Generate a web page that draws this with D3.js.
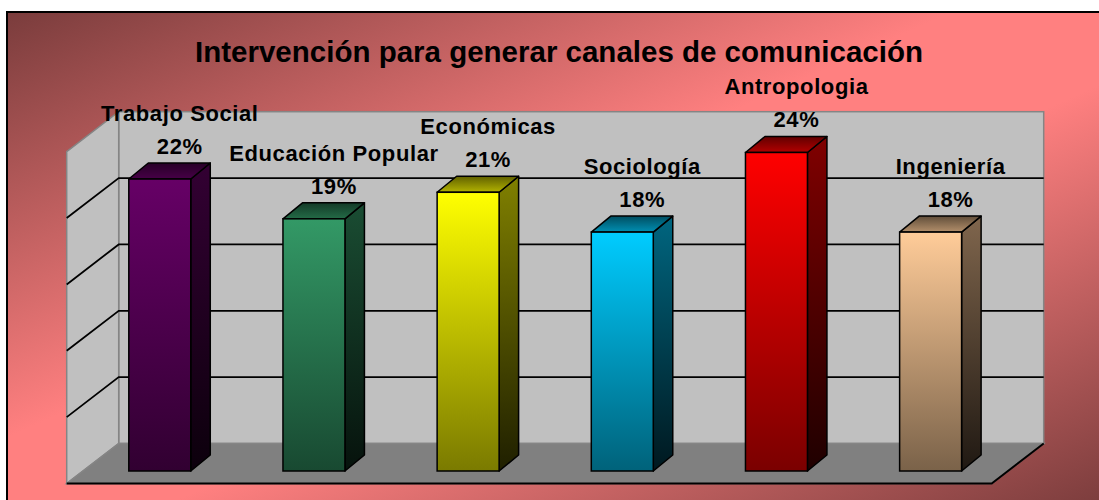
<!DOCTYPE html>
<html>
<head>
<meta charset="utf-8">
<script src="https://cdn.jsdelivr.net/npm/d3@7"></script>
<style>
  body { margin: 0; background: #fff; }
  text { font-family: "Liberation Sans", Arial, sans-serif; font-weight: bold; fill: #000; }
</style>
</head>
<body>
<div id="chart"></div>
<script>
var title = "Intervención para generar canales de comunicación";
var categories = ["Trabajo Social", "Educación Popular", "Económicas", "Sociología", "Antropologia", "Ingeniería"];
var values = [22, 19, 21, 18, 24, 18];
var yTicks = [0, 5, 10, 15, 20, 25];
var barColors = ["#660066", "#339966", "#ffff00", "#00ccff", "#ff0000", "#ffcc99"];

var width = 1099, height = 500;

// 3d layout of the plot (floor front edge + depth offsets)
var floorL = 66.7, floorR = 991.7, floorY = 483.5,
    depthX = 52, depthY = 40,
    planeX = 16, planeY = 12.5,   // bars sit this far back on the floor
    barDX = 19.5, barDY = 16;     // depth of each bar

var svg = d3.select("#chart").append("svg")
    .attr("width", width)
    .attr("height", height);

var defs = svg.append("defs");

var bg = defs.append("linearGradient")
    .attr("id", "bg")
    .attr("x1", 0).attr("y1", 0).attr("x2", 1).attr("y2", 1);
bg.append("stop").attr("offset", 0).attr("stop-color", "#7a3c3c");
bg.append("stop").attr("offset", 0.43).attr("stop-color", "#ff8080");
bg.append("stop").attr("offset", 0.57).attr("stop-color", "#ff8080");
bg.append("stop").attr("offset", 1).attr("stop-color", "#7a3c3c");

svg.append("rect")
    .attr("x", 7).attr("y", 12)
    .attr("width", 1100).attr("height", 495)
    .attr("fill", "url(#bg)")
    .attr("stroke", "#000")
    .attr("stroke-width", 2);

var x = d3.scaleBand()
    .domain(categories)
    .range([floorL, floorR])
    .paddingInner(0.598)
    .paddingOuter(0.299);

var yMax = d3.max(yTicks);
var yWall = d3.scaleLinear().domain([0, yMax]).range([floorY - depthY, floorY - depthY - 331.8]);
var yBar = d3.scaleLinear().domain([0, yMax]).range([floorY - planeY, floorY - planeY - 331.8]);

var wallL = floorL + depthX, wallR = floorR + depthX;

// back wall
svg.append("rect")
    .attr("x", wallL).attr("y", yWall(yMax))
    .attr("width", wallR - wallL).attr("height", yWall(0) - yWall(yMax))
    .attr("fill", "#c0c0c0")
    .attr("stroke", "#858585")
    .attr("stroke-width", 1.5);

// side wall
svg.append("path")
    .attr("d", d3.line()([[floorL, floorY], [wallL, yWall(0)], [wallL, yWall(yMax)], [floorL, yWall(yMax) + depthY]]) + "Z")
    .attr("fill", "#c0c0c0")
    .attr("stroke", "#858585")
    .attr("stroke-width", 1.5);

// floor
svg.append("path")
    .attr("d", d3.line()([[floorL, floorY], [floorR, floorY], [wallR, yWall(0)], [wallL, yWall(0)]]) + "Z")
    .attr("fill", "#808080")
    .attr("stroke", "#858585")
    .attr("stroke-width", 1.5);
svg.append("path")
    .attr("d", d3.line()([[floorL, floorY], [floorR, floorY], [wallR, yWall(0)]]))
    .attr("fill", "none")
    .attr("stroke", "#000")
    .attr("stroke-width", 2);

// gridlines on both walls
var grid = yTicks.filter(function(t){ return t > 0 && t < yMax; });
svg.selectAll(".grid")
    .data(grid)
    .enter().append("path")
    .attr("class", "grid")
    .attr("d", function(t){
        return d3.line()([[floorL, yWall(t) + depthY], [wallL, yWall(t)], [wallR, yWall(t)]]);
    })
    .attr("fill", "none")
    .attr("stroke", "#000")
    .attr("stroke-width", 1.8);

function mix(c, k){ return d3.interpolateRgb(c, "#000")(k); }

function grad(id, c0, c1){
    var g = defs.append("linearGradient").attr("id", id)
        .attr("x1", 0).attr("y1", 0).attr("x2", 0).attr("y2", 1);
    g.append("stop").attr("offset", 0).attr("stop-color", c0);
    g.append("stop").attr("offset", 1).attr("stop-color", c1);
}

var bars = svg.selectAll(".bar")
    .data(categories.map(function(c, i){ return { cat: c, val: values[i], color: barColors[i], i: i }; }))
    .enter().append("g")
    .attr("class", "bar");

bars.each(function(d){
    grad("front" + d.i, d.color, mix(d.color, 0.52));
    grad("side" + d.i, mix(d.color, 0.5), mix(d.color, 0.88));
    grad("top" + d.i, mix(d.color, 0.62), mix(d.color, 0.3));

    var g = d3.select(this),
        x0 = x(d.cat) + planeX, x1 = x0 + x.bandwidth(),
        yt = yBar(d.val), yb = yBar(0);

    g.append("path")
        .attr("d", d3.line()([[x1, yt], [x1 + barDX, yt - barDY], [x1 + barDX, yb - barDY], [x1, yb]]) + "Z")
        .attr("fill", "url(#side" + d.i + ")")
        .attr("stroke", "#000").attr("stroke-width", 1.5).attr("stroke-linejoin", "round");
    g.append("path")
        .attr("d", d3.line()([[x0, yt], [x0 + barDX, yt - barDY], [x1 + barDX, yt - barDY], [x1, yt]]) + "Z")
        .attr("fill", "url(#top" + d.i + ")")
        .attr("stroke", "#000").attr("stroke-width", 1.5).attr("stroke-linejoin", "round");
    g.append("rect")
        .attr("x", x0).attr("y", yt)
        .attr("width", x1 - x0).attr("height", yb - yt)
        .attr("fill", "url(#front" + d.i + ")")
        .attr("stroke", "#000").attr("stroke-width", 1.5);

    var cx = (x0 + x1) / 2 + 20;
    g.append("text")
        .attr("x", cx).attr("y", yt - 25 - 33)
        .attr("text-anchor", "middle")
        .style("font-size", "22px")
        .style("letter-spacing", "0.6px")
        .text(d.cat);
    g.append("text")
        .attr("x", cx).attr("y", yt - 25)
        .attr("text-anchor", "middle")
        .style("font-size", "22px")
        .style("letter-spacing", "0.6px")
        .text(d.val + "%");
});

svg.append("text")
    .attr("x", 559).attr("y", 62)
    .attr("text-anchor", "middle")
    .style("font-size", "29.5px")
    .text(title);
</script>
</body>
</html>
